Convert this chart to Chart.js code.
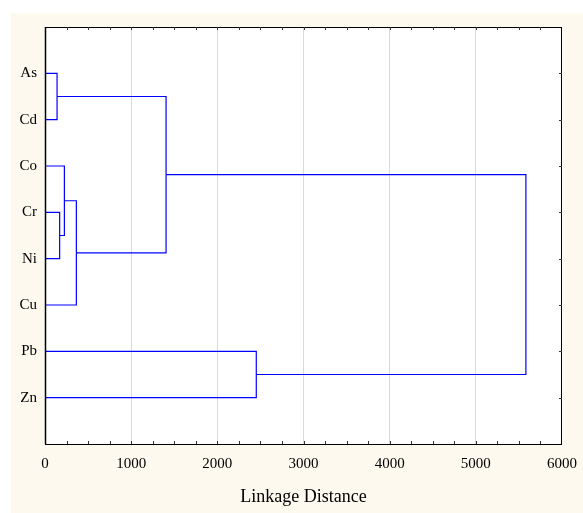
<!DOCTYPE html>
<html>
<head>
<meta charset="utf-8">
<script src="https://cdn.jsdelivr.net/npm/chart.js@4.4.1/dist/chart.umd.min.js"></script>
<style>
  html, body { margin: 0; padding: 0; background: #fff; }
  #wrap { width: 583px; height: 513px; }
</style>
</head>
<body>
<div id="wrap"><canvas id="chart" width="583" height="513"></canvas></div>
<script>
// leaves top to bottom
const leaves = ['As', 'Cd', 'Co', 'Cr', 'Ni', 'Cu', 'Pb', 'Zn'];
// node ids 0-7 are the leaves, merge k makes node 8 + k
const mergeLeft  = [0, 3, 2, 10, 8, 6, 12];
const mergeRight = [1, 4, 9, 5, 11, 7, 13];
const mergeDist  = [140, 170, 225, 364, 1405, 2452, 5581];
const xTicks = [0, 1000, 2000, 3000, 4000, 5000, 6000];

const cream = '#fef9ee';
const lineBlue = '#0000ff';
const serif = "'Liberation Serif', 'Times New Roman', serif";

// position and height of every node
const nodeY = leaves.map((_, i) => i + 1);
const nodeH = leaves.map(() => 0);
const datasets = [];
mergeDist.forEach((d, k) => {
    const a = mergeLeft[k], b = mergeRight[k];
    nodeY.push((nodeY[a] + nodeY[b]) / 2);
    nodeH.push(d);
    datasets.push({
        data: [
            {x: nodeH[a], y: nodeY[a]},
            {x: d, y: nodeY[a]},
            {x: d, y: nodeY[b]},
            {x: nodeH[b], y: nodeY[b]}
        ],
        showLine: true,
        borderColor: lineBlue,
        borderWidth: 1.2,
        pointRadius: 0,
        tension: 0,
        fill: false
    });
});

const frame = {
    id: 'frame',
    beforeDraw(chart) {
        const {ctx, chartArea: a} = chart;
        ctx.save();
        ctx.fillStyle = '#fff';
        ctx.fillRect(0, 0, chart.width, chart.height);
        ctx.fillStyle = cream;
        ctx.fillRect(11, 13, chart.width - 11, chart.height - 13);
        ctx.fillStyle = '#fff';
        ctx.fillRect(a.left, a.top, a.right - a.left, a.bottom - a.top);
        ctx.restore();
    },
    afterDraw(chart) {
        const {ctx, chartArea: a, scales} = chart;
        ctx.save();
        ctx.strokeStyle = '#000';
        ctx.lineWidth = 1;
        ctx.strokeRect(a.left + 0.5, a.top + 0.5, a.right - a.left - 1, a.bottom - a.top);
        ctx.lineWidth = 1.5;
        ctx.beginPath();
        ctx.moveTo(a.left + 0.5, a.top);
        ctx.lineTo(a.left + 0.5, a.bottom);
        ctx.stroke();
        // inward minor ticks
        ctx.lineWidth = 1;
        ctx.strokeStyle = '#333';
        ctx.beginPath();
        for (let v = 250; v < 6000; v += 250) {
            const x = Math.round(scales.x.getPixelForValue(v)) + 0.5;
            ctx.moveTo(x, a.top);
            ctx.lineTo(x, a.top + 3);
            ctx.moveTo(x, a.bottom);
            ctx.lineTo(x, a.bottom - 3);
        }
        for (let i = 1; i <= leaves.length; i++) {
            const y = Math.round(scales.y.getPixelForValue(i)) + 0.5;
            ctx.moveTo(a.right, y);
            ctx.lineTo(a.right - 3, y);
        }
        ctx.stroke();
        ctx.restore();
    }
};

new Chart(document.getElementById('chart'), {
    type: 'scatter',
    data: {datasets},
    options: {
        responsive: false,
        animation: false,
        layout: {padding: {top: 27, right: 21, left: 0, bottom: 0}},
        plugins: {legend: {display: false}, tooltip: {enabled: false}},
        scales: {
            x: {
                type: 'linear',
                min: 0,
                max: 6000,
                afterFit: s => { s.height = 69; s.paddingLeft = 0; s.paddingRight = 0; },
                afterBuildTicks: s => { s.ticks = xTicks.map(v => ({value: v})); },
                ticks: {
                    autoSkip: false,
                    maxRotation: 0,
                    padding: 11,
                    color: '#000',
                    font: {family: serif, size: 15},
                    callback: v => String(v)
                },
                grid: {
                    drawTicks: false,
                    color: c => (c.tick && c.tick.value > 0 && c.tick.value < 6000) ? '#d9d9d9' : 'rgba(0,0,0,0)'
                },
                border: {display: false},
                title: {
                    display: true,
                    text: 'Linkage Distance',
                    color: '#000',
                    font: {family: serif, size: 18},
                    padding: {top: 0, bottom: 5}
                }
            },
            y: {
                type: 'linear',
                min: 0,
                max: 9,
                reverse: true,
                afterFit: s => { s.width = 45; s.paddingTop = 0; s.paddingBottom = 0; },
                ticks: {
                    stepSize: 1,
                    autoSkip: false,
                    padding: 8,
                    color: '#000',
                    font: {family: serif, size: 15},
                    callback: v => leaves[v - 1] || ''
                },
                grid: {display: false, drawTicks: false},
                border: {display: false}
            }
        }
    },
    plugins: [frame]
});
</script>
</body>
</html>
